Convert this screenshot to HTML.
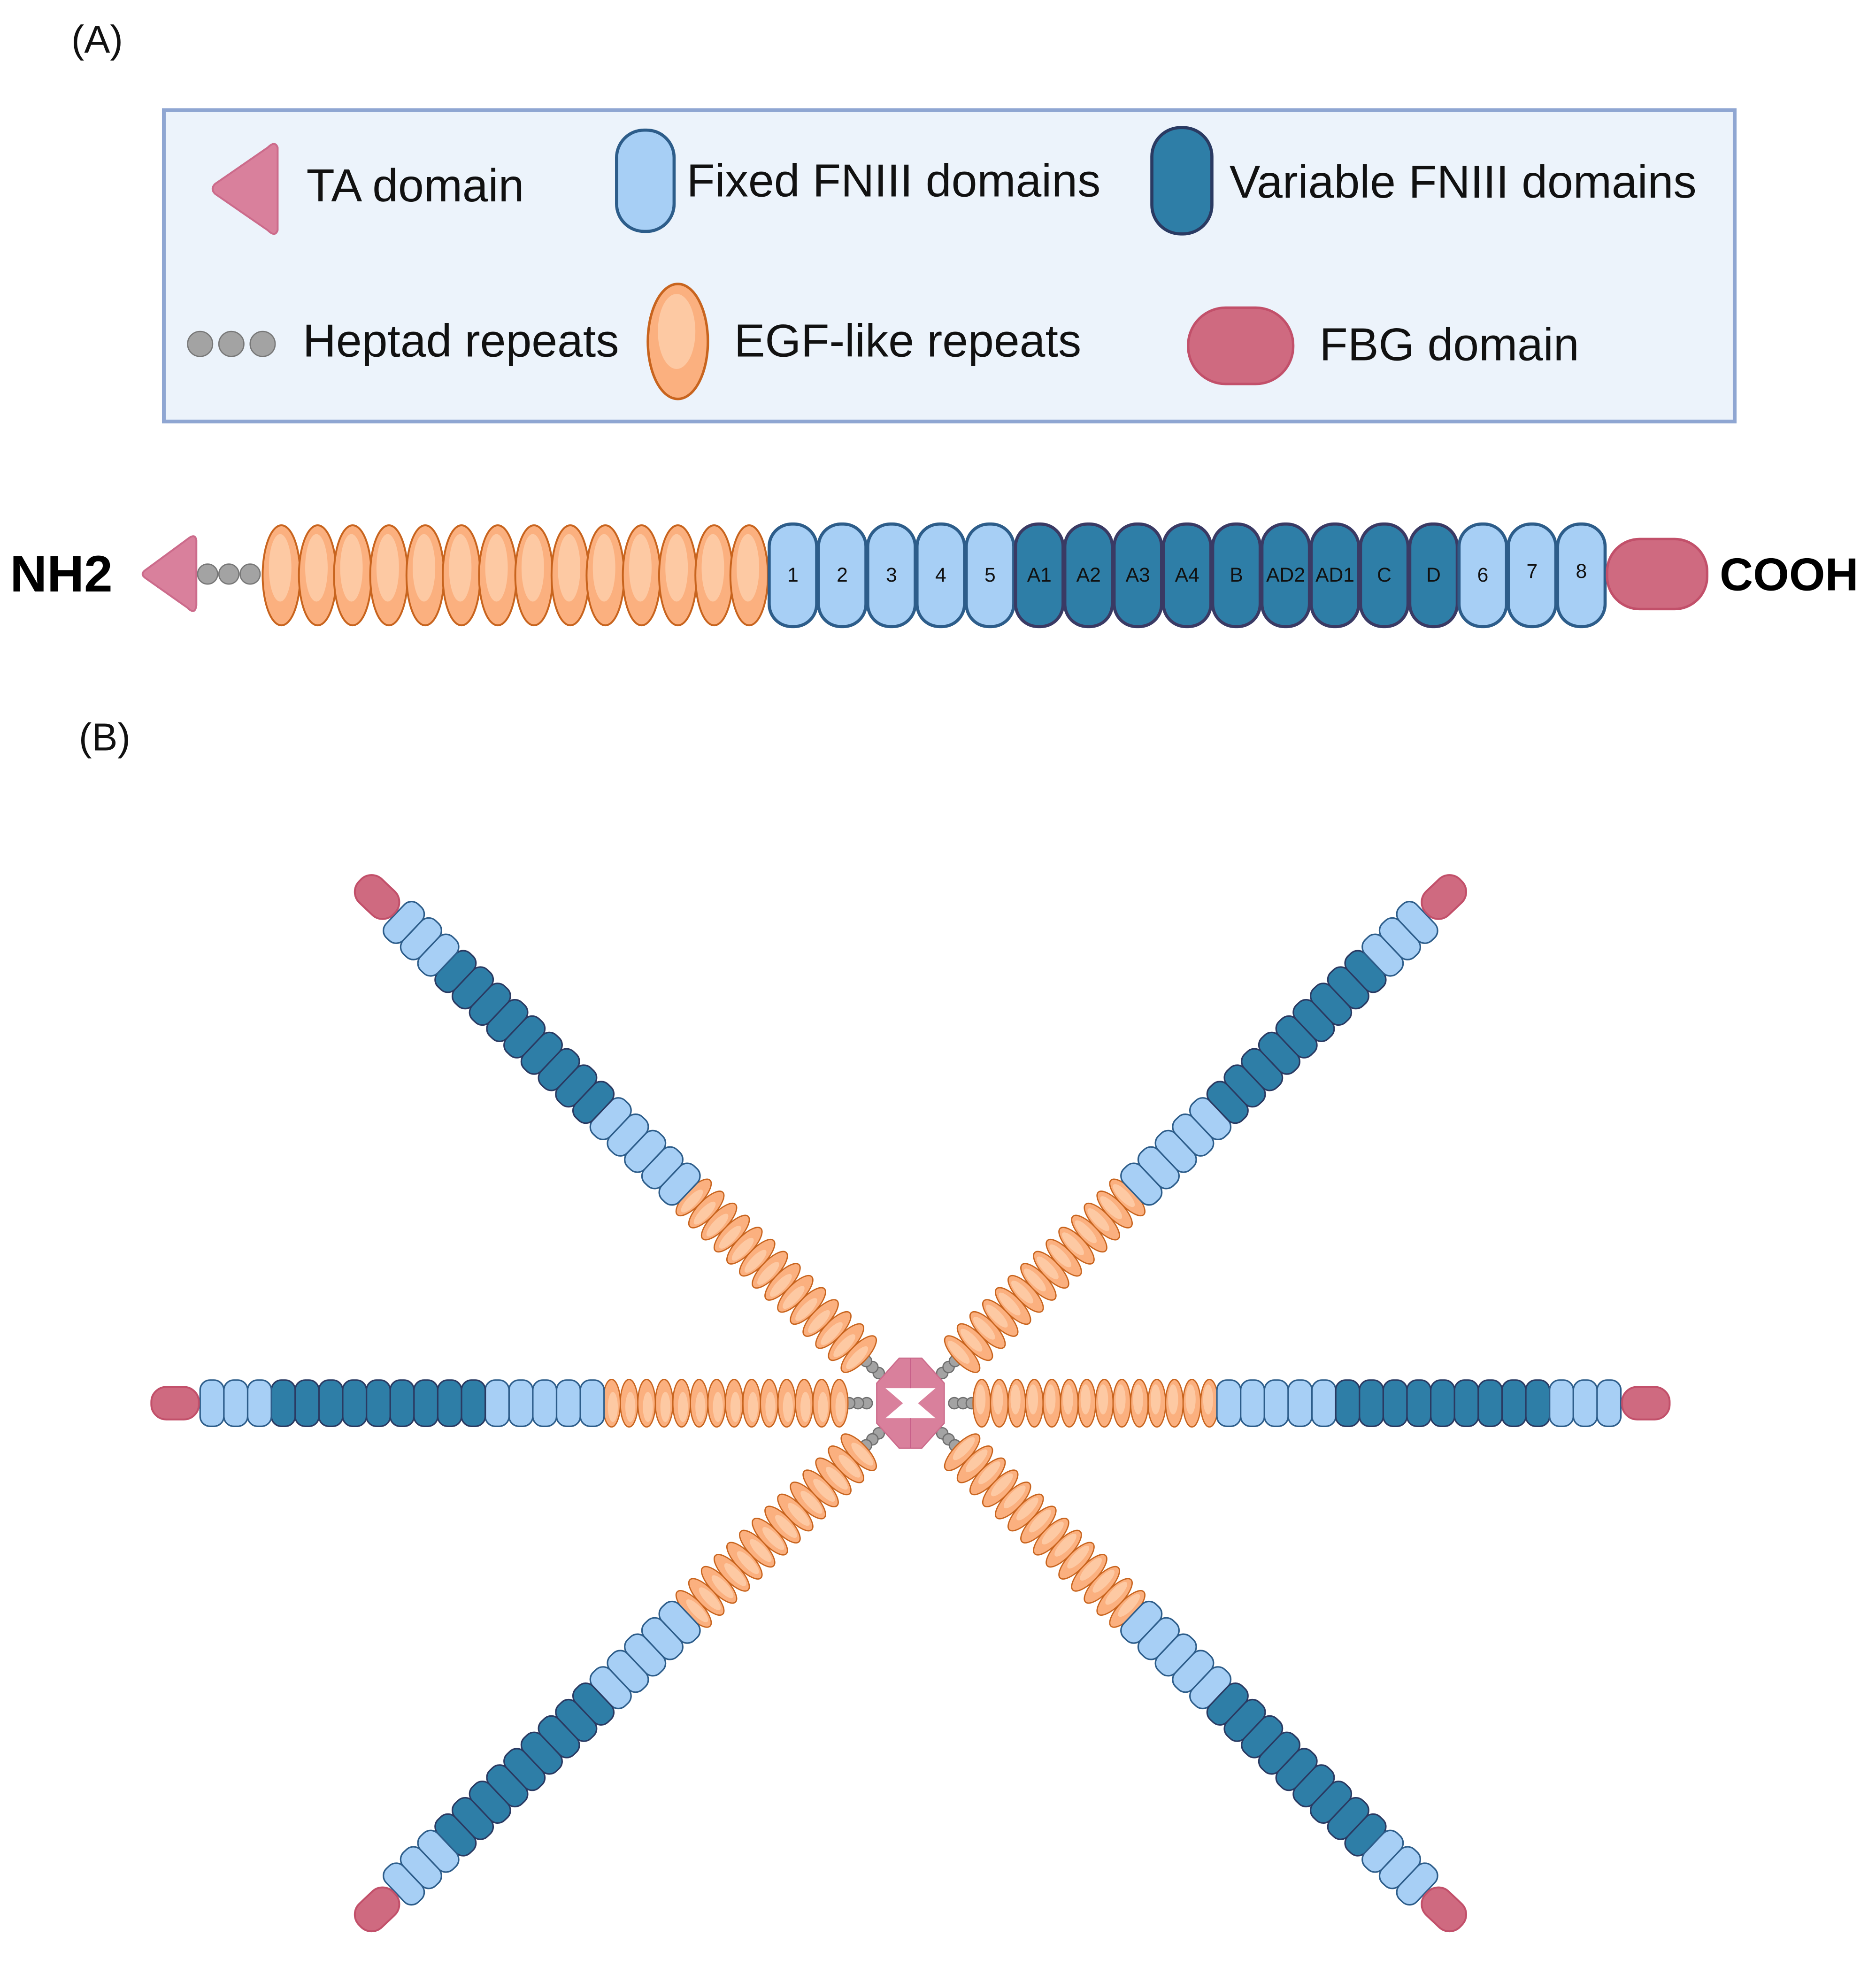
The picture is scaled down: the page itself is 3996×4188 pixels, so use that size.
<!DOCTYPE html>
<html><head><meta charset="utf-8"><style>html,body{margin:0;padding:0;background:#fff}svg{display:block}</style></head>
<body>
<svg xmlns="http://www.w3.org/2000/svg" xmlns:xlink="http://www.w3.org/1999/xlink" width="3996" height="4188" viewBox="0 0 1500 1572" font-family="'Liberation Sans', sans-serif">
<defs>
  <g id="eL"><ellipse rx="15" ry="40" fill="#fbb07f" stroke="#c8641e" stroke-width="1.5"/><ellipse cx="-1" cy="-6" rx="9" ry="27" fill="#fdc9a3"/></g>
  <g id="eS"><ellipse rx="7" ry="19" fill="#fbb07f" stroke="#c8641e" stroke-width="1"/><ellipse cx="-1" cy="-3" rx="4" ry="12" fill="#fdc9a3"/></g>
  <rect id="fl" x="0" y="-18.5" width="19" height="37" rx="8" fill="#a7cff5" stroke="#2d5d8a" stroke-width="1.2"/>
  <rect id="fd" x="0" y="-18.5" width="19" height="37" rx="8" fill="#2e7ea7" stroke="#2a3a62" stroke-width="1.2"/>
  <rect id="FL" x="0" y="-41" width="38" height="82" rx="18" fill="#a7cff5" stroke="#2d5d8a" stroke-width="2.5"/>
  <rect id="FD" x="0" y="-41" width="38" height="82" rx="18" fill="#2e7ea7" stroke="#3a3a64" stroke-width="2.5"/>
  <g id="bead"><circle r="4.5" fill="#a3a3a3" stroke="#6f6f6f" stroke-width="1"/></g>
  <g id="arm">
    <use href="#bead" x="35"/><use href="#bead" x="42"/><use href="#bead" x="49"/>
    <use href="#eS" x="57"/><use href="#eS" x="71"/><use href="#eS" x="85"/><use href="#eS" x="99"/><use href="#eS" x="113"/><use href="#eS" x="127"/><use href="#eS" x="141"/><use href="#eS" x="155"/><use href="#eS" x="169"/><use href="#eS" x="183"/><use href="#eS" x="197"/><use href="#eS" x="211"/><use href="#eS" x="225"/><use href="#eS" x="239"/>
    <use href="#fl" x="245"/><use href="#fl" x="264"/><use href="#fl" x="283"/><use href="#fl" x="302"/><use href="#fl" x="321"/>
    <use href="#fd" x="340"/><use href="#fd" x="359"/><use href="#fd" x="378"/><use href="#fd" x="397"/><use href="#fd" x="416"/><use href="#fd" x="435"/><use href="#fd" x="454"/><use href="#fd" x="473"/><use href="#fd" x="492"/>
    <use href="#fl" x="511"/><use href="#fl" x="530"/><use href="#fl" x="549"/>
    <rect x="569" y="-13" width="38" height="26" rx="12" fill="#cf6a80" stroke="#c2506a" stroke-width="1.5"/>
  </g>
</defs>

<text x="57" y="42" font-size="31" fill="#111">(A)</text>

<rect x="131" y="88" width="1256" height="249" fill="#ecf3fb" stroke="#8fa6d2" stroke-width="3"/>
<path d="M222,118 L222,184 Q220,190 214,184 L172,155 Q168,151 172,147 L214,118 Q220,112 222,118 Z" fill="#d9809c" stroke="#cc6b8b" stroke-width="1.5"/>
<text x="245" y="161" font-size="37" fill="#111">TA domain</text>
<rect x="493" y="104" width="46" height="81" rx="22" fill="#a7cff5" stroke="#2d5d8a" stroke-width="2.5"/>
<text x="549" y="157" font-size="37" fill="#111">Fixed FNIII domains</text>
<rect x="921" y="102" width="48" height="85" rx="23" fill="#2e7ea7" stroke="#2a3a62" stroke-width="2.5"/>
<text x="983" y="158" font-size="37" fill="#111">Variable FNIII domains</text>
<g transform="translate(0,275)"><circle cx="160" r="10" fill="#a3a3a3" stroke="#777"/><circle cx="185" r="10" fill="#a3a3a3" stroke="#777"/><circle cx="210" r="10" fill="#a3a3a3" stroke="#777"/></g>
<text x="242" y="285" font-size="37" fill="#111">Heptad repeats</text>
<ellipse cx="542" cy="273" rx="24" ry="46" fill="#fbb07f" stroke="#c8641e" stroke-width="2"/><ellipse cx="541" cy="265" rx="15" ry="30" fill="#fdc9a3"/>
<text x="587" y="285" font-size="37" fill="#111">EGF-like repeats</text>
<rect x="950" y="246" width="84" height="61" rx="30" fill="#cf6a80" stroke="#c2506a" stroke-width="2"/>
<text x="1055" y="288" font-size="37" fill="#111">FBG domain</text>

<text x="8" y="473" font-size="41" font-weight="bold" fill="#000">NH2</text>
<path d="M157,432 L157,484 Q156,492 150,486 L116,462 Q112,459 116,456 L150,431 Q156,426 157,432 Z" fill="#d9809c" stroke="#cc6b8b" stroke-width="1.5"/>
<circle cx="166" cy="459" r="8" fill="#a3a3a3" stroke="#777"/><circle cx="183" cy="459" r="8" fill="#a3a3a3" stroke="#777"/><circle cx="200" cy="459" r="8" fill="#a3a3a3" stroke="#777"/>
<g transform="translate(0,460)">
<use href="#eL" x="225"/><use href="#eL" x="254"/><use href="#eL" x="282"/><use href="#eL" x="311"/><use href="#eL" x="340"/><use href="#eL" x="369"/><use href="#eL" x="398"/><use href="#eL" x="427"/><use href="#eL" x="456"/><use href="#eL" x="484"/><use href="#eL" x="513"/><use href="#eL" x="542"/><use href="#eL" x="571"/><use href="#eL" x="599"/>
<use href="#FL" x="615"/><use href="#FL" x="654.4"/><use href="#FL" x="693.8"/><use href="#FL" x="733.2"/><use href="#FL" x="772.6"/>
<use href="#FD" x="812"/><use href="#FD" x="851.4"/><use href="#FD" x="890.8"/><use href="#FD" x="930.2"/><use href="#FD" x="969.6"/><use href="#FD" x="1009"/><use href="#FD" x="1048.4"/><use href="#FD" x="1087.8"/><use href="#FD" x="1127.2"/>
<use href="#FL" x="1166.6"/><use href="#FL" x="1206"/><use href="#FL" x="1245.4"/>
</g>
<g font-size="16" fill="#111" text-anchor="middle">
<text x="634" y="465">1</text><text x="673.4" y="465">2</text><text x="712.8" y="465">3</text><text x="752.2" y="465">4</text><text x="791.6" y="465">5</text>
<text x="831" y="465">A1</text><text x="870.4" y="465">A2</text><text x="909.8" y="465">A3</text><text x="949.2" y="465">A4</text><text x="988.6" y="465">B</text>
<text x="1028" y="465">AD2</text><text x="1067.4" y="465">AD1</text><text x="1106.8" y="465">C</text><text x="1146.2" y="465">D</text>
<text x="1185.6" y="465">6</text><text x="1225" y="462">7</text><text x="1264.4" y="462">8</text>
</g>
<rect x="1285" y="431" width="80" height="56" rx="26" fill="#cf6a80" stroke="#c2506a" stroke-width="2"/>
<text x="1375" y="472" font-size="37" font-weight="bold" fill="#000">COOH</text>

<text x="63" y="600" font-size="31" fill="#111">(B)</text>

<g transform="translate(728,1122)">
  <use href="#arm"/>
  <use href="#arm" transform="rotate(180)"/>
  <use href="#arm" transform="rotate(-43.5)"/>
  <use href="#arm" transform="rotate(43.5)"/>
  <use href="#arm" transform="rotate(-136.5)"/>
  <use href="#arm" transform="rotate(136.5)"/>
  <path d="M-9,-36 L9,-36 L27,-16 L27,16 L9,36 L-9,36 L-27,16 L-27,-16 Z" fill="#d9809c" stroke="#cc6b8b" stroke-width="1"/>
  <path d="M-20,-12 L20,-12 L6,0 L20,12 L-20,12 L-6,0 Z" fill="#fff"/>
  <line x1="0" y1="-36" x2="0" y2="-12" stroke="#c8608a" stroke-width="1"/>
  <line x1="0" y1="12" x2="0" y2="36" stroke="#c8608a" stroke-width="1"/>
</g>
</svg>
</body></html>
